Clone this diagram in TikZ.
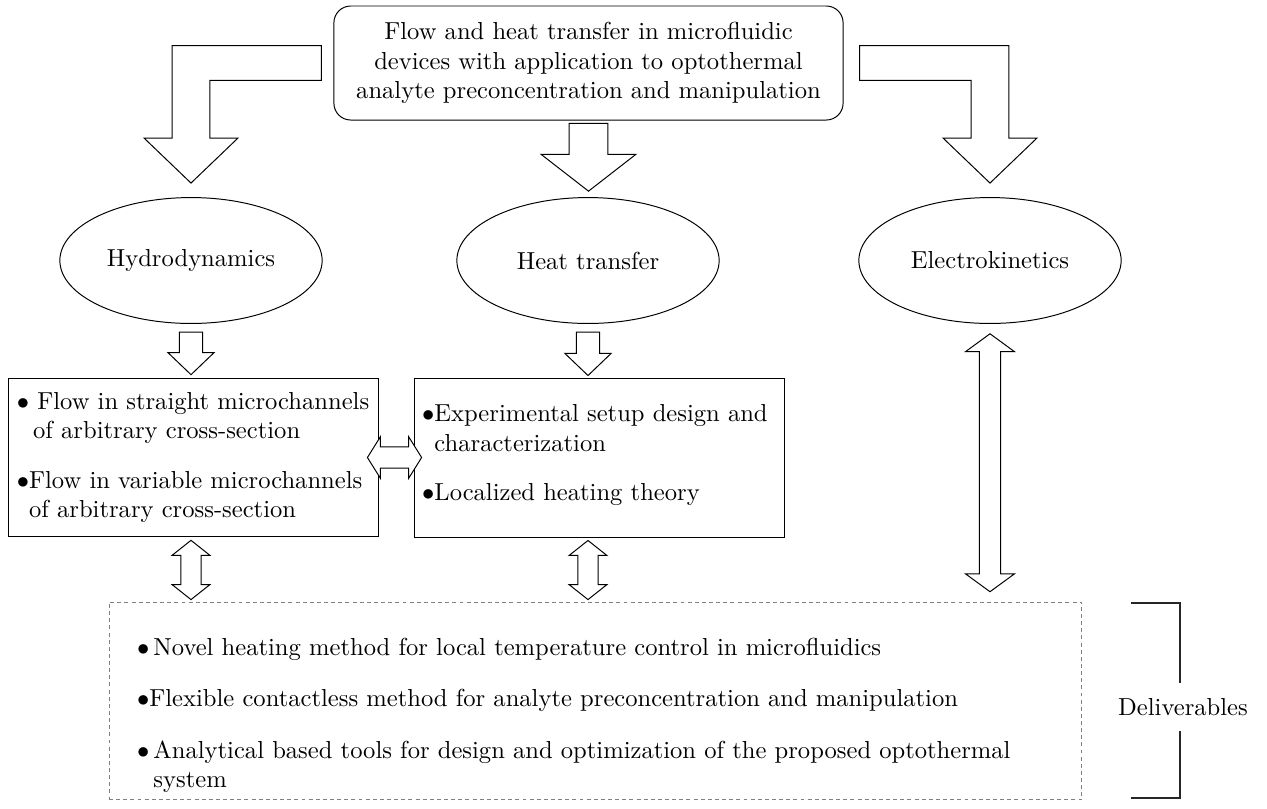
\documentclass[tikz,border=0pt]{standalone}
\usepackage{amsmath,amssymb}
\usepackage{xcolor}
\usepackage{tikz}
\usetikzlibrary{shapes.geometric,calc,positioning}

% hollow block arrows: start, end, half shaft, half head, head length
\newcommand{\hollowdown}[5]{%
  \draw[hollow] let \p1=(#1), \p2=(#2) in
    (\x1-#3,\y1) -- (\x1+#3,\y1) -- (\x1+#3,\y2+#5) -- (\x1+#4,\y2+#5) -- (\x1,\y2)
    -- (\x1-#4,\y2+#5) -- (\x1-#3,\y2+#5) -- cycle;}
\newcommand{\hollowupdown}[5]{%
  \draw[hollow] let \p1=(#1), \p2=(#2) in
    (\x1,\y1) -- (\x1+#4,\y1-#5) -- (\x1+#3,\y1-#5) -- (\x1+#3,\y2+#5) -- (\x1+#4,\y2+#5)
    -- (\x1,\y2) -- (\x1-#4,\y2+#5) -- (\x1-#3,\y2+#5) -- (\x1-#3,\y1-#5) -- (\x1-#4,\y1-#5) -- cycle;}
\newcommand{\hollowleftright}[5]{%
  \draw[hollow] let \p1=(#1), \p2=(#2) in
    (\x1,\y1) -- (\x1+#5,\y1+#4) -- (\x1+#5,\y1+#3) -- (\x2-#5,\y1+#3) -- (\x2-#5,\y1+#4)
    -- (\x2,\y1) -- (\x2-#5,\y1-#4) -- (\x2-#5,\y1-#3) -- (\x1+#5,\y1-#3) -- (\x1+#5,\y1-#4) -- cycle;}
\newcommand{\itembullet}{\hphantom{$\bullet$}}

\begin{document}
\begin{tikzpicture}[
    x=0.0143cm, y=-0.0143cm,
    hollow/.style={draw, fill=white},
    topic/.style={ellipse, draw, minimum width=3.75cm, minimum height=1.8cm, inner sep=0pt},
    box/.style={rectangle, draw},
    list/.style={align=left, inner sep=0pt},
    deliv/.style={rectangle, draw=gray, dash pattern=on 1.6pt off 1.3pt},
    bracket/.style={semithick, draw=black!85}
]
    \useasboundingbox (0,0) rectangle (1267,808);

    \node[box, rounded corners=0.24cm, minimum width=7.28cm, minimum height=1.63cm, align=center] (top) at (588.5,63)
        {Flow and heat transfer in microfluidic\\devices with application to optothermal\\analyte preconcentration and manipulation};

    \node[topic] (hydro) at (191,260.5) {Hydrodynamics};
    \node[topic] (heat) at (588,260.5) {Heat transfer};
    \node[topic] (elec) at (990,260.5) {Electrokinetics};

    \node[box, minimum width=5.29cm, minimum height=2.27cm, align=left] (hydrobox) at (193,457.5)
        {$\bullet$ Flow in straight microchannels\\\itembullet\,of arbitrary cross-section\\[8pt]
         $\bullet$Flow in variable microchannels\\\itembullet of arbitrary cross-section};

    \node[box, minimum width=5.29cm, minimum height=2.26cm] (heatbox) at (599,458) {};
    \node[list, anchor=north west] (heatlist) at ([xshift=3.3pt,yshift=-10.5pt]heatbox.north west)
        {$\bullet$Experimental setup design and\\\itembullet characterization\\[8pt]
         $\bullet$Localized heating theory};

    \node[deliv, minimum width=13.91cm, minimum height=2.83cm] (delivbox) at (595.5,701) {};
    \node[list, anchor=north west] (delivlist) at ([xshift=11.4pt,yshift=-14.5pt]delivbox.north west)
        {$\bullet$\,Novel heating method for local temperature control in microfluidics\\[9pt]
         $\bullet$Flexible contactless method for analyte preconcentration and manipulation\\[9pt]
         $\bullet$\,Analytical based tools for design and optimization of the proposed optothermal\\
         \itembullet\,system};

    \node[inner sep=6pt] (delivtxt) at (1183,707) {Deliverables};
    \coordinate (brtl) at (1131,603);
    \coordinate (brtop) at (1180,603);
    \coordinate (brbl) at (1131,798);
    \coordinate (brbot) at (1180,798);
    \draw[bracket] (brtl) -- (brtop) -- (brtop |- delivtxt.north);
    \draw[bracket] (brbl) -- (brbot) -- (brbot |- delivtxt.south);

    % bent arrows from the title
    \draw[hollow] let \p1=([xshift=-4.9pt]top.west), \p2=([yshift=5.7pt]hydro.north) in
        (\x1,\y1+7.1pt) -- (\x2-7.7pt,\y1+7.1pt) -- (\x2-7.7pt,\y2+18.3pt) -- (\x2-19.1pt,\y2+18.3pt)
        -- (\x2,\y2) -- (\x2+19.1pt,\y2+18.3pt) -- (\x2+7.7pt,\y2+18.3pt) -- (\x2+7.7pt,\y1-7.1pt)
        -- (\x1,\y1-7.1pt) -- cycle;
    \draw[hollow] let \p1=([xshift=6.5pt]top.east), \p2=([yshift=5.7pt]elec.north) in
        (\x1,\y1+7.1pt) -- (\x2+7.7pt,\y1+7.1pt) -- (\x2+7.7pt,\y2+18.3pt) -- (\x2+19.1pt,\y2+18.3pt)
        -- (\x2,\y2) -- (\x2-19.1pt,\y2+18.3pt) -- (\x2-7.7pt,\y2+18.3pt) -- (\x2-7.7pt,\y1-7.1pt)
        -- (\x1,\y1-7.1pt) -- cycle;
    \hollowdown{[yshift=-1.2pt]top.south}{[yshift=2.4pt]heat.north}{7.9pt}{19.3pt}{15pt}

    \hollowdown{[yshift=-3.3pt]hydro.south}{[yshift=1.2pt]hydrobox.north}{4.7pt}{9.4pt}{9pt}
    \hollowdown{[yshift=-3.3pt]heat.south}{[yshift=1.2pt]heatbox.north}{4.7pt}{9.4pt}{9pt}

    \hollowleftright{[xshift=-4.5pt]hydrobox.east}{[xshift=3.3pt]heatbox.west}{4.3pt}{8.5pt}{5.3pt}

    \hollowupdown{[yshift=-1.2pt]hydro.south |- hydrobox.south}{[yshift=0.8pt]delivbox.north}{4.1pt}{7.7pt}{6.1pt}
    \hollowupdown{[yshift=-1.2pt]heat.south |- heatbox.south}{[yshift=0.8pt]delivbox.north}{4.1pt}{7.7pt}{6.1pt}
    \hollowupdown{[yshift=-4pt]elec.south}{[yshift=4pt]delivbox.north}{4.3pt}{10pt}{7.3pt}
\end{tikzpicture}
\end{document}
